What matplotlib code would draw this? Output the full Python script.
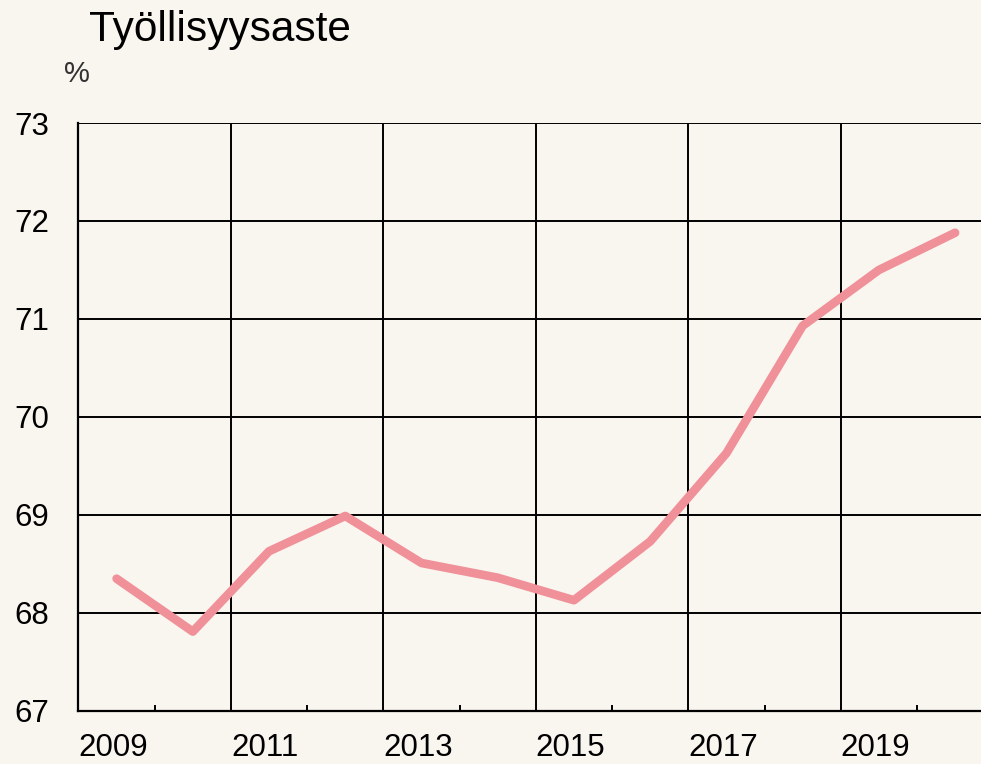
import matplotlib.pyplot as plt
import numpy as np

plt.rcParams['font.family'] = ['Liberation Sans', 'DejaVu Sans']

# employment rate by year (%)
years = [2009, 2010, 2011, 2012, 2013, 2014, 2015, 2016, 2017, 2018, 2019, 2020]
rate = [68.35, 67.81, 68.63, 68.99, 68.51, 68.36, 68.13, 68.73, 69.63, 70.93, 71.50, 71.88]
tick_years = [2009, 2011, 2013, 2015, 2017, 2019]
minor_years = [2010, 2012, 2014, 2016, 2018, 2020]

bg = '#f9f5ef'
fig = plt.figure(figsize=(9.81, 7.64), dpi=100, facecolor=bg)
ax = fig.add_axes([0.080, 0.0694, 0.920, 0.7696], facecolor=bg)

# values sit in the middle of each year
x = np.array(years) + 0.5
ax.plot(x, rate, color='#f09098', lw=6.2, solid_capstyle='round', zorder=3)

ax.set_xlim(2009, 2020.84)
ax.set_ylim(67, 73)
ax.set_xticks(tick_years)
ax.set_xticklabels([str(y) for y in tick_years], ha='left')
ax.xaxis.set_minor_locator(plt.FixedLocator(minor_years))
ax.set_yticks(range(67, 74))

ax.grid(True, which='major', color='black', lw=1.4, zorder=1)
ax.tick_params(axis='x', which='major', length=0, pad=16, labelsize=22.5, labelcolor='black')
ax.tick_params(axis='x', which='minor', direction='in', length=4.5, width=1.4, color='black')
ax.tick_params(axis='y', length=0, pad=21, labelsize=22.5)

for s in ['top', 'right']:
    ax.spines[s].set_visible(False)
for s in ['left', 'bottom']:
    ax.spines[s].set_linewidth(1.6)
    ax.spines[s].set_color('black')
ax.set_axisbelow(True)

fig.text(89 / 981, 1 - 30 / 764, 'Työllisyysaste', fontsize=30.5, va='center', ha='left')
fig.text(64 / 981, 1 - 74 / 764, '%', fontsize=21, va='center', ha='left', color='#333333')

fig.savefig('out.png', dpi=100, facecolor=bg)
